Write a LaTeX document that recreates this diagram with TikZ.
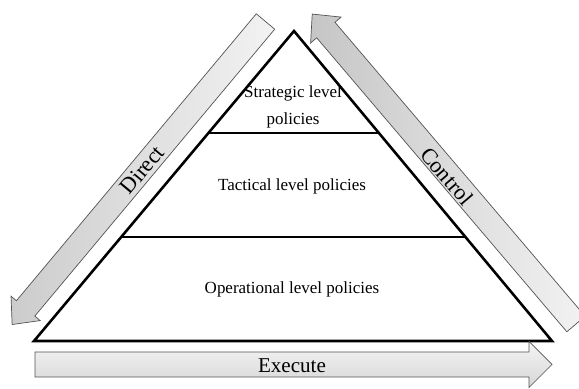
\documentclass[tikz,border=0pt]{standalone}
\usepackage{fontspec}
\setmainfont{Liberation Serif}
\usepackage{tikz}
\usetikzlibrary{calc}

\begin{document}
\begin{tikzpicture}[x=0.03cm,y=0.03cm,
        level/.style={font=\fontsize{14.5}{23}\selectfont, align=center, inner sep=0pt},
        tag/.style={font=\fontsize{19}{21}\selectfont, inner sep=0pt},
        band/.style={draw=gray!65!black, line width=0.6pt},
        tier/.style={line width=2.2pt}]

        \useasboundingbox (0,0) rectangle (579,389);

        % Draw the pyramid
        \coordinate (apex) at (294,358);
        \coordinate (bl) at (34,48);
        \coordinate (br) at (552,48);
        \coordinate (sl) at ($(apex)!0.329!(bl)$);
        \coordinate (sr) at ($(apex)!0.329!(br)$);
        \coordinate (tl) at ($(apex)!0.665!(bl)$);
        \coordinate (tr) at ($(apex)!0.665!(br)$);
        \draw[tier] (apex) -- (br) -- (bl) -- cycle;
        \draw[tier] (sl) -- (sr);
        \draw[tier] (tl) -- (tr);

        % Draw the tier labels
        \node[level] (strategic) at (293,282) {Strategic level\\policies};
        \node[level] (tactical) at (292,203) {Tactical level policies};
        \node[level] (operational) at (292,100) {Operational level policies};

        % Draw the block arrows
        \begin{scope}[shift={(265.5,367.5)}, rotate=230.1]
            \draw[band, left color=gray!40, right color=gray!10]
                (0,-12) -- (374,-12) -- (374,-19) -- (395,0) -- (374,19) -- (374,12) -- (0,12) -- cycle;
        \end{scope}
        \begin{scope}[shift={(576,65)}, rotate=130.4]
            \draw[band, left color=gray!45, right color=gray!10]
                (0,-12) -- (386,-12) -- (386,-20) -- (407,0) -- (386,20) -- (386,12) -- (0,12) -- cycle;
        \end{scope}
        \begin{scope}[shift={(35,24.5)}]
            \draw[band, top color=gray!8, bottom color=gray!32]
                (0,-12.5) -- (494,-12.5) -- (494,-23) -- (517,0) -- (494,23) -- (494,12.5) -- (0,12.5) -- cycle;
        \end{scope}

        % Draw the arrow labels
        \node[tag, rotate=50.1] (direct) at (142,219) {Direct};
        \node[tag, rotate=-49.6] (control) at (447,213) {Control};
        \node[tag, font=\fontsize{18}{20}\selectfont] (execute) at (292,23) {Execute};

    \end{tikzpicture}
\end{document}
